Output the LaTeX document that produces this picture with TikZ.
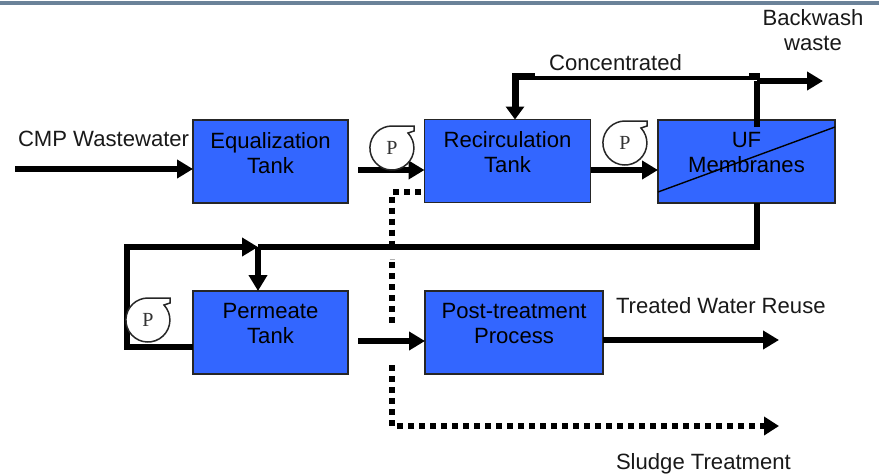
\documentclass[tikz,border=0pt]{standalone}
\usepackage{fontspec}
\setmainfont{Liberation Sans}
\newfontfamily\pumpfont{Liberation Serif}
\usetikzlibrary{arrows.meta,calc}
\definecolor{boxblue}{HTML}{3366FF}
\definecolor{barblue}{HTML}{6B8299}
\tikzset{
  x=1pt,y=-1pt,
  every node/.style={font=\fontsize{22.1}{25}\selectfont,inner sep=0pt,outer sep=0pt},
  tank/.style={draw=black!85,line width=1.7pt,fill=boxblue,minimum height=83pt,align=center,text depth=0pt},
  lbl/.style={align=center,text=black!90},
  pumpnode/.style={circle,minimum size=44pt,font=\pumpfont\fontsize{20}{22}\selectfont,text=black!80},
  pipe/.style={line width=5.5pt,-{Triangle[length=16pt,width=18pt]}},
  plainpipe/.style={line width=6pt,line join=miter},
  thinpipe/.style={line width=3.5pt},
  dots/.style={line width=6pt,dash pattern=on 6pt off 5pt},
  pics/pumpshape/.style={code={
    \draw[x=1pt,y=1pt,black!85,line width=1.5pt,fill=white]
      (0,22) -- (22,22) -- (22,17) -- (16,15) arc[start angle=43,end angle=-270,radius=22pt] -- cycle;
  }}
}
\begin{document}
\begin{tikzpicture}
\useasboundingbox (0,0) rectangle (879,475);
\fill[barblue] (0,1) rectangle (879,5);

% tanks
\node[tank,minimum width=155pt] (eq) at (270.5,161.5) {Equalization\\Tank\\[-7pt]\mbox{}};
\node[tank,minimum width=166pt] (re) at (507.5,161) {Recirculation\\Tank\\[-7pt]\mbox{}};
\node[tank,minimum width=177pt] (uf) at (746.5,161.5) {UF\\Membranes\\[-7pt]\mbox{}};
\node[tank,minimum width=155pt] (pe) at (270.5,332.5) {Permeate\\Tank\\[-7pt]\mbox{}};
\node[tank,minimum width=178pt] (po) at (514,332.5) {Post-treatment\\Process\\[-7pt]\mbox{}};
\draw[line width=1.4pt] (uf.west |- 0,192) -- (uf.east |- 0,127);

% free ends
\coordinate (cmpin) at (15,169);
\coordinate (eqout) at (358,170);
\coordinate (peout) at (358,341);
\coordinate (jt) at (258,247);
\coordinate (ufb) at (757,247);
\coordinate (lc) at (127,247);
\coordinate (lb) at (127,347);
\coordinate (ct) at (757,78);
\coordinate (cl) at (515,78);
\coordinate (bw) at (757,81);
\coordinate (bwend) at (823,81);
\coordinate (trend) at (779,340);
\coordinate (d1) at (392,192);
\coordinate (d2) at (392,250);
\coordinate (d3) at (392,262);
\coordinate (d4) at (392,327);
\coordinate (d5) at (392,365);
\coordinate (d6) at (392,426);
\coordinate (slend) at (779,426);

% solid connectors
\draw[pipe] (cmpin) -- (eq.west |- cmpin);
\draw[pipe] (eqout) -- (re.west |- eqout);
\draw[pipe] (re.east |- eqout) -- (uf.west |- eqout);
\draw[pipe] (peout) -- (po.west |- peout);
\draw[pipe] (po.east |- trend) -- (trend);
\draw[plainpipe] (uf.south -| ufb) -- (ufb) -- (jt);
\draw[pipe] (pe.west |- lb) -- (lb) -- (lc) -- (jt);
\draw[pipe] (jt) -- (pe.north -| jt);
\draw[plainpipe] (757,127) -- (bw);
\draw[pipe] (bw) -- (bwend);
\draw[thinpipe] (ct) -- (cl);
\draw[line width=6pt] (535,75.5) -- (512,75.5);
\draw[line width=6pt] (749,75.5) -- (760,75.5);
\draw[line width=7pt,-{Triangle[length=13pt,width=18pt]}] (cl |- 0,73) -- (cl |- re.north);

% dotted connectors
\draw[dots] (re.west |- d1) ++(-4,0) -- (d1) -- (d2);
\draw[black!30,line width=1pt] (389.5,259) -- (394.5,259);
\draw[dots] (d3) -- (d4);
\draw[dots,-{Triangle[length=15pt,width=18pt]}] (d5) -- (d6) -- (slend);

% pumps
\node[pumpnode] (p1) at (392,148) {};
\node[pumpnode] (p2) at (625,143) {};
\node[pumpnode] (p3) at (148,320) {};
\pic at (p1) {pumpshape};
\pic at (p2) {pumpshape};
\pic at (p3) {pumpshape};
\node[pumpnode] at (p1) {P};
\node[pumpnode] at (p2) {P};
\node[pumpnode] at (p3) {P};

% labels
\node[lbl,anchor=base west] (tcmp) at (18,146) {CMP Wastewater};
\node[lbl,anchor=base] (tcon) at (615.5,70) {Concentrated};
\node[lbl,anchor=north] (tbw) at (813,9) {Backwash\\waste};
\node[lbl,anchor=base west] (ttr) at (616,313) {Treated Water Reuse};
\node[lbl,anchor=base west] (tsl) at (616,469) {Sludge Treatment};
\end{tikzpicture}
\end{document}
